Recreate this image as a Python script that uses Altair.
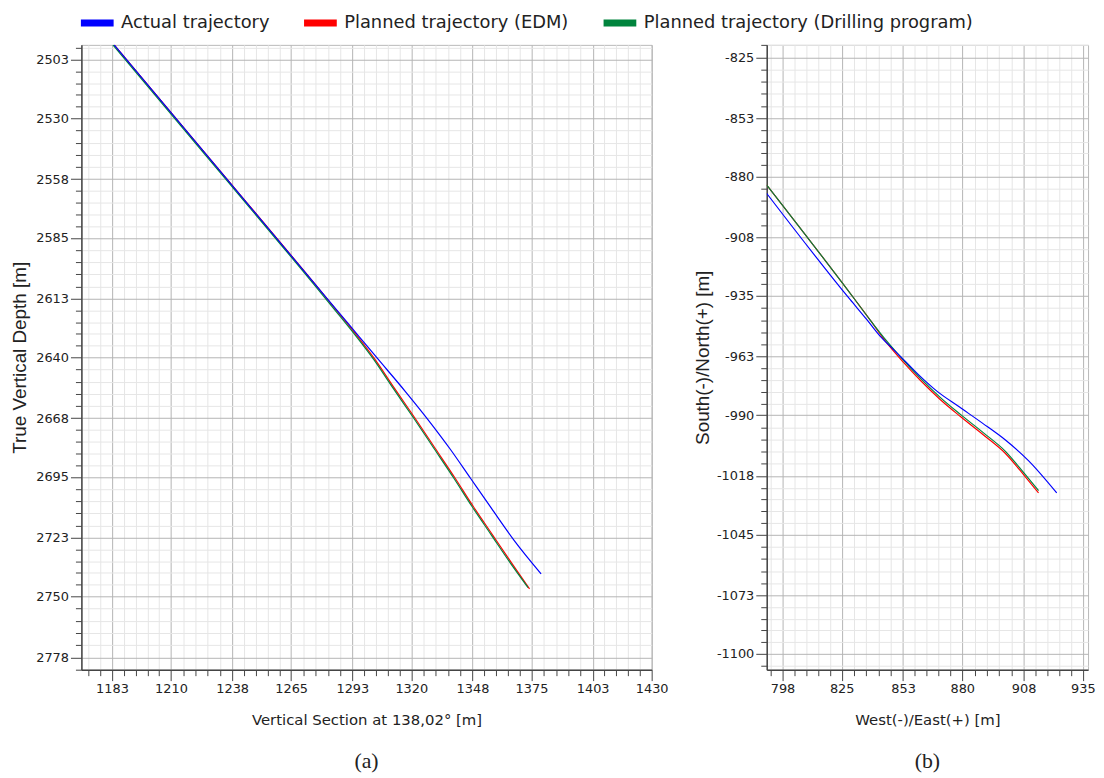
import altair as alt
import pandas as pd

SERIES = ["Actual trajectory", "Planned trajectory (EDM)", "Planned trajectory (Drilling program)"]
COLORS = ["#0000ff", "#ff0000", "#00843d"]
DRAW_ORDER = [SERIES[1], SERIES[2], SERIES[0]]

# ---------------- Panel (a): Vertical section vs TVD ----------------
a_actual_vs = [1184.0, 1223.4, 1274.2, 1286.3, 1296.0, 1304.6, 1317.2, 1327.6, 1338.0, 1347.0, 1356.7, 1367.2, 1379.4]
a_actual_tvd = [2496.2, 2543.4, 2604.2, 2618.7, 2630.3, 2640.6, 2655.6, 2668.6, 2682.5, 2695.5, 2709.5, 2724.4, 2739.6]

a_edm_vs = [1184.0, 1223.4, 1274.2, 1286.3, 1295.2, 1303.2, 1312.4, 1321.8, 1330.9, 1340.0, 1348.3, 1357.0, 1365.7, 1374.1]
a_edm_tvd = [2496.2, 2543.4, 2604.2, 2619.0, 2630.1, 2640.7, 2654.4, 2668.1, 2681.8, 2695.5, 2708.5, 2721.4, 2734.3, 2746.5]

a_dp_vs = [1183.4, 1222.8, 1273.6, 1285.7, 1294.6, 1302.6, 1311.8, 1321.2, 1330.3, 1339.4, 1347.7, 1356.4, 1365.1, 1373.4]
a_dp_tvd = [2496.2, 2543.4, 2604.2, 2619.0, 2630.1, 2640.7, 2654.4, 2668.1, 2681.8, 2695.5, 2708.5, 2721.4, 2734.3, 2745.9]

a_x_ticks = [1183, 1210, 1238, 1265, 1293, 1320, 1348, 1375, 1403, 1430]
a_y_ticks = [2503, 2530, 2558, 2585, 2613, 2640, 2668, 2695, 2723, 2750, 2778]
a_x_domain = [1169.0, 1430.0]
a_y_domain = [2496.2, 2783.7]

# ---------------- Panel (b): East vs North ----------------
b_actual_ew = [790.8, 828.8, 836.3, 842.4, 848.4, 854.4, 860.5, 868.0, 878.6, 889.2, 899.7, 910.2, 923.1]
b_actual_ns = [-887.7, -936.6, -945.7, -953.4, -959.5, -965.5, -971.7, -978.5, -986.1, -993.6, -1001.4, -1010.9, -1025.8]

b_edm_ew = [790.8, 831.0, 838.1, 845.4, 853.1, 861.2, 869.8, 879.3, 889.7, 899.7, 908.8, 914.8]
b_edm_ns = [-883.8, -936.6, -946.2, -956.4, -965.5, -974.2, -982.6, -990.7, -999.1, -1007.6, -1018.4, -1025.8]

b_dp_ew = [790.8, 831.0, 838.1, 845.4, 853.1, 861.2, 869.8, 879.3, 889.7, 899.7, 908.8, 914.8]
b_dp_ns = [-883.8, -936.6, -946.2, -955.6, -964.5, -973.2, -981.6, -989.7, -998.1, -1006.6, -1017.4, -1024.7]

b_x_ticks = [798, 825, 853, 880, 908, 935]
b_y_ticks = [-825, -853, -880, -908, -935, -963, -990, -1018, -1045, -1073, -1100]
b_x_domain = [790.8, 937.4]
b_y_domain = [-1107.3, -819.2]

MAJOR_GRID = "#b4b4b4"
MINOR_GRID = "#e6e6e6"
AXIS_COL = "#444444"
TEXT_COL = "#222222"


def frame(groups):
    rows = []
    for name, xs, ys in groups:
        for i, (xv, yv) in enumerate(zip(xs, ys)):
            rows.append({"series": name, "x": xv, "y": yv, "i": i})
    return pd.DataFrame(rows)


def tick_values(majors, lo, hi):
    m = sorted(majors)
    vals = list(m)
    for a, b in zip(m[:-1], m[1:]):
        for k in range(1, 5):
            vals.append(round(a + (b - a) * k / 5, 3))
    step = (m[1] - m[0]) / 5
    v = m[0] - step
    while v > lo:
        vals.append(round(v, 3))
        v -= step
    step = (m[-1] - m[-2]) / 5
    v = m[-1] + step
    while v < hi:
        vals.append(round(v, 3))
        v += step
    return sorted(vals)


def make_axis(majors, lo, hi, title, title_font, title_size, title_padding):
    arr = "[" + ",".join(str(v) for v in majors) + "]"
    test = f"indexof({arr}, datum.value) >= 0"
    return alt.Axis(
        values=tick_values(majors, lo, hi),
        title=title,
        labelExpr=f"{test} ? toString(datum.value) : ''",
        labelOverlap=False,
        labelFlush=False,
        labelFont="DejaVu Sans",
        labelFontSize=13,
        labelColor=TEXT_COL,
        labelPadding=2,
        grid=True,
        gridColor={"condition": {"test": test, "value": MAJOR_GRID}, "value": MINOR_GRID},
        gridWidth=1,
        tickSize={"condition": {"test": test, "value": 11}, "value": 6},
        tickColor=AXIS_COL,
        tickWidth=1,
        domainColor=AXIS_COL,
        domainWidth=1.5,
        titleFont=title_font,
        titleFontSize=title_size,
        titleFontWeight="normal",
        titleColor=TEXT_COL,
        titlePadding=title_padding,
    )


color_scale = alt.Scale(domain=SERIES, range=COLORS)
legend = alt.Legend(
    title=None,
    orient="none",
    legendX=4,
    legendY=-34,
    direction="horizontal",
    symbolType="M-2,0H2",
    symbolSize=272.25,
    symbolStrokeWidth=7,
    labelFont="DejaVu Sans",
    labelFontSize=18,
    labelColor=TEXT_COL,
    labelLimit=600,
    labelOffset=12,
    columnPadding=20,
    padding=0,
)


def panel(df, xaxis, yaxis, xdom, ydom, yreverse, width, height, label):
    x = alt.X("x:Q", scale=alt.Scale(domain=xdom, nice=False, zero=False), axis=xaxis)
    y = alt.Y("y:Q", scale=alt.Scale(domain=ydom, nice=False, zero=False, reverse=yreverse), axis=yaxis)
    layers = []
    for s in DRAW_ORDER:
        layers.append(
            alt.Chart(df)
            .transform_filter(alt.datum.series == s)
            .mark_line(strokeWidth=1.2, interpolate="monotone", clip=True)
            .encode(
                x=x,
                y=y,
                order="i:Q",
                color=alt.Color("series:N", scale=color_scale, legend=legend),
            )
        )
    return alt.layer(*layers).properties(
        width=width,
        height=height,
        title=alt.TitleParams(
            text=label,
            orient="bottom",
            anchor="middle",
            font="Liberation Serif",
            fontSize=22,
            fontWeight="normal",
            color=TEXT_COL,
            offset=24,
        ),
    )


df_a = frame([
    (SERIES[0], a_actual_vs, a_actual_tvd),
    (SERIES[1], a_edm_vs, a_edm_tvd),
    (SERIES[2], a_dp_vs, a_dp_tvd),
])
df_b = frame([
    (SERIES[0], b_actual_ew, b_actual_ns),
    (SERIES[1], b_edm_ew, b_edm_ns),
    (SERIES[2], b_dp_ew, b_dp_ns),
])

pa = panel(
    df_a,
    make_axis(a_x_ticks, *a_x_domain, "Vertical Section at 138,02° [m]", "DejaVu Sans", 15, 17),
    make_axis(a_y_ticks, *a_y_domain, "True Vertical Depth [m]", "Liberation Sans", 19, 6),
    a_x_domain, a_y_domain, True, 575, 630, "(a)",
)
pb = panel(
    df_b,
    make_axis(b_x_ticks, *b_x_domain, "West(-)/East(+) [m]", "DejaVu Sans", 15, 17),
    make_axis(b_y_ticks, *b_y_domain, "South(-)/North(+) [m]", "Liberation Sans", 19, 4),
    b_x_domain, b_y_domain, False, 324, 630, "(b)",
)

chart = (
    alt.hconcat(pa, pb, spacing=116, bounds="flush")
    .properties(padding={"left": 2, "top": 0, "right": 0, "bottom": 0})
    .configure_view(stroke="#b8b8b8", strokeWidth=1)
)

chart.save("out.html", embed_options={"renderer": "svg", "actions": False})
